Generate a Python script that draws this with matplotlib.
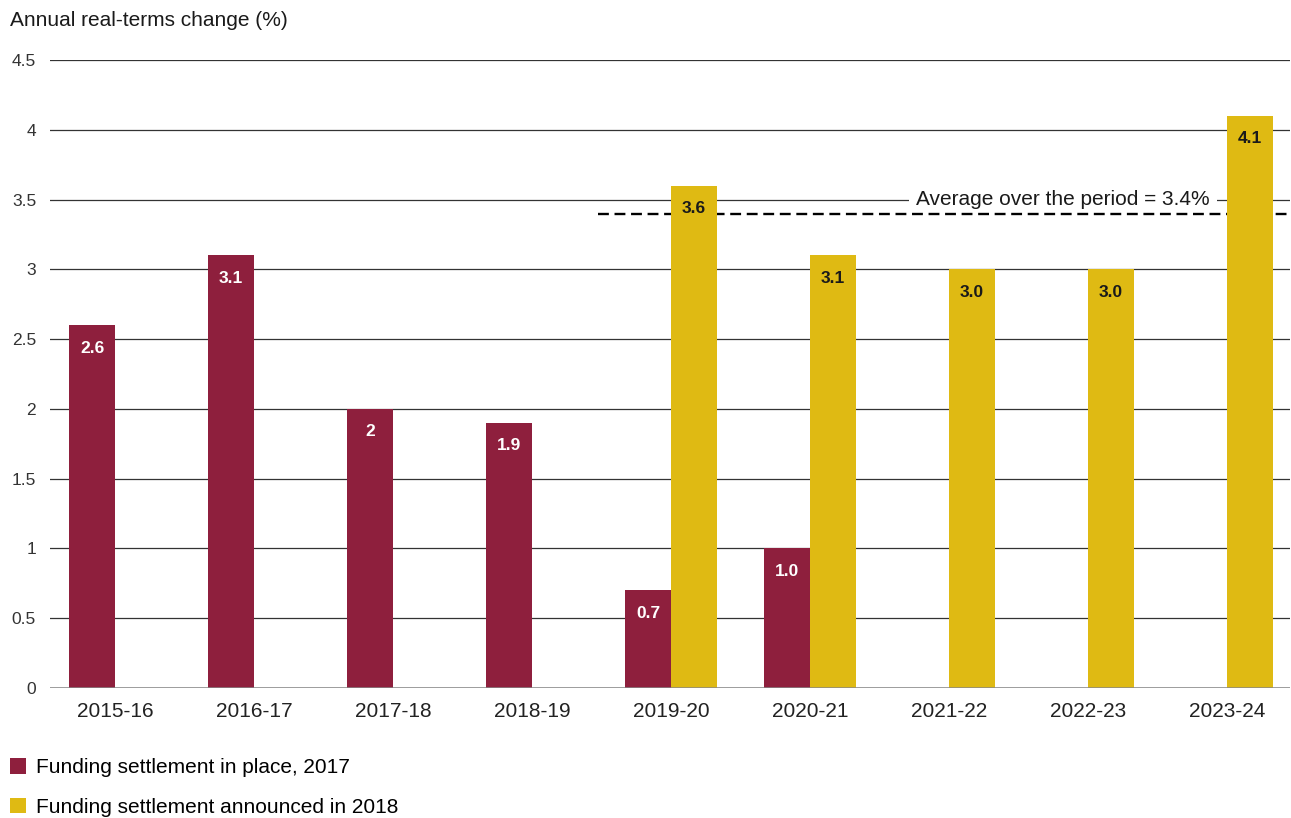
import numpy as np
import matplotlib.pyplot as plt
from matplotlib.patches import Patch

plt.rcParams['font.family'] = ['Liberation Sans', 'DejaVu Sans']

# Annual real-terms change (%) by financial year
years = ['2015-16', '2016-17', '2017-18', '2018-19', '2019-20',
         '2020-21', '2021-22', '2022-23', '2023-24']
settlement_2017 = [2.6, 3.1, 2.0, 1.9, 0.7, 1.0, 0, 0, 0]
settlement_2017_labels = ['2.6', '3.1', '2', '1.9', '0.7', '1.0', '', '', '']
settlement_2018 = [0, 0, 0, 0, 3.6, 3.1, 3.0, 3.0, 4.1]
settlement_2018_labels = ['', '', '', '', '3.6', '3.1', '3.0', '3.0', '4.1']
average_2018 = 3.4
average_start = 3.475   # dashed line begins just left of 2019-20

red = '#8E1F3D'
gold = '#DFBA13'

fig = plt.figure(figsize=(12.91, 8.18), dpi=100)
ax = fig.add_axes([50 / 1291, 130 / 818, 1240 / 1291, 628 / 818])
ax.set_axisbelow(True)

x = np.arange(len(years))
w = 0.33

ax.bar(x - w / 2, settlement_2017, width=w, color=red, zorder=3)
ax.bar(x + w / 2, settlement_2018, width=w, color=gold, zorder=3)

for xi, v, lab in zip(x, settlement_2017, settlement_2017_labels):
    if lab:
        ax.text(xi - w / 2, v - 0.165, lab, ha='center', va='center',
                color='white', fontsize=12.5, fontweight='bold', zorder=4)
for xi, v, lab in zip(x, settlement_2018, settlement_2018_labels):
    if lab:
        ax.text(xi + w / 2, v - 0.165, lab, ha='center', va='center',
                color='#1a1a1a', fontsize=12.5, fontweight='bold', zorder=4)

# average line for the 2018 settlement, drawn behind the bars
ax.plot([average_start, 8.6], [average_2018, average_2018], color='black',
        lw=1.7, ls=(0, (4.6, 2.4)), zorder=2, clip_on=False)
ax.text(6.82, 3.5, 'Average over the period = 3.4%', ha='center', va='center',
        fontsize=15, color='#1a1a1a', zorder=1.8,
        bbox=dict(facecolor='white', edgecolor='none', pad=5))

ax.set_xlim(-0.468, 8.453)
ax.set_ylim(0, 4.5)
ax.set_yticks(np.arange(0, 4.51, 0.5))
ax.set_yticklabels(['0', '0.5', '1', '1.5', '2', '2.5', '3', '3.5', '4', '4.5'])
ax.set_xticks(x)
ax.set_xticklabels(years)
ax.tick_params(axis='y', length=0, pad=10, labelsize=12.5, labelcolor='#333333')
ax.tick_params(axis='x', length=0, pad=10, labelsize=15, labelcolor='#222222')

ax.grid(axis='y', color='#333333', lw=0.9)
for s in ax.spines.values():
    s.set_visible(False)
ax.axhline(0, color='#888888', lw=1.8, zorder=3.5)

fig.text(10 / 1291, 1 - 21 / 818, 'Annual real-terms change (%)', ha='left',
         va='center', fontsize=15, color='#1a1a1a')

handles = [Patch(facecolor=red, edgecolor='none'),
           Patch(facecolor=gold, edgecolor='none')]
fig.legend(handles, ['Funding settlement in place, 2017',
                     'Funding settlement announced in 2018'],
           loc='upper left', bbox_to_anchor=(4 / 1291, 1 - 752 / 818),
           frameon=False, fontsize=15, handlelength=0.75, handleheight=0.75,
           handletextpad=0.5, labelspacing=1.0, borderaxespad=0,
           borderpad=0.3)

fig.savefig('out.png', dpi=100)
